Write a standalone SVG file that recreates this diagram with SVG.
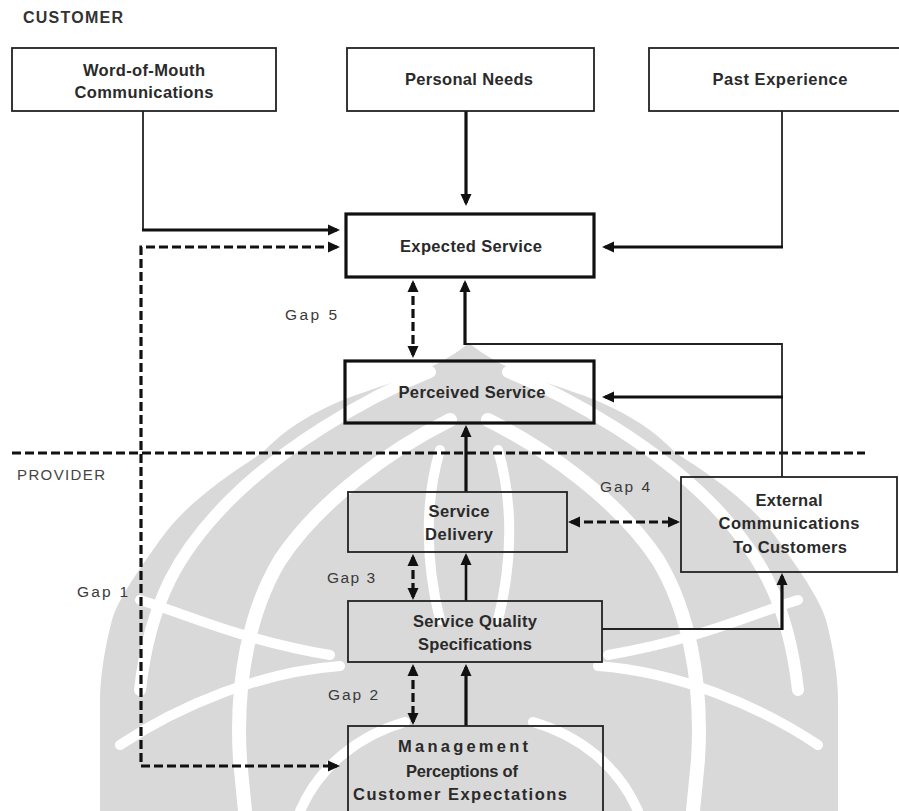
<svg xmlns="http://www.w3.org/2000/svg" xmlns:xlink="http://www.w3.org/1999/xlink" width="899" height="811" viewBox="0 0 899 811">
<style>
.box{fill:none;stroke:#222;stroke-width:1.8}
.bold{fill:none;stroke:#111;stroke-width:3.2}
.t{font-family:"Liberation Sans",Arial,sans-serif;font-size:16.5px;font-weight:bold;fill:#2a2a2a;text-anchor:middle}
.lab{font-family:"Liberation Sans",Arial,sans-serif;font-size:15.5px;fill:#3a3a3a}
.thin{fill:none;stroke:#222;stroke-width:1.8}
.thick{fill:none;stroke:#111;stroke-width:3.2}
.dash{fill:none;stroke:#111;stroke-width:3.2;stroke-dasharray:9 4}
.wm{fill:#d9d9d9}
.wb{fill:none;stroke:#fff;stroke-linecap:round}
</style>
<defs>
<marker id="ah" markerUnits="userSpaceOnUse" markerWidth="14" markerHeight="14" refX="9" refY="6" orient="auto-start-reverse">
<path d="M0,0.5 L12,6 L0,11.5 Z" fill="#111"/>
</marker>
<g id="wmhalf">
<path class="wm" d="M469,343 C430,375 380,385 343,400 C300,418 280,435 262,453 C220,480 185,505 160,540 C135,575 118,600 112,620 C104,650 100,680 100,700 L100,811 L469,811 Z"/>
<path class="wb" stroke-width="12" d="M430,372 C360,400 280,450 230,500 C180,550 150,600 140,690"/>
<path class="wb" stroke-width="14" d="M450,420 C390,450 320,500 280,560 C250,610 235,680 240,760 L245,811"/>
<path class="wb" stroke-width="10" d="M440,450 C425,500 425,560 440,620"/>
<path class="wb" stroke-width="10" d="M140,600 C180,612 240,640 330,655"/>
<path class="wb" stroke-width="10" d="M120,745 C180,705 260,672 340,666"/>
<path class="wb" stroke-width="10" d="M300,811 C320,765 360,735 405,722"/>
</g>
</defs>
<rect width="899" height="811" fill="#fff"/>
<g id="watermark">
<use xlink:href="#wmhalf"/>
<use xlink:href="#wmhalf" transform="translate(938,0) scale(-1,1)"/>
</g>
<text x="23" y="23" font-family="'Liberation Sans',Arial,sans-serif" font-size="16" font-weight="bold" fill="#333" textLength="100" lengthAdjust="spacing">CUSTOMER</text>
<text x="17" y="480" font-family="'Liberation Sans',Arial,sans-serif" font-size="15" fill="#444" textLength="88" lengthAdjust="spacing">PROVIDER</text>
<g id="connectors">
<line class="dash" x1="12" y1="453" x2="865" y2="453"/>
<path class="thin" d="M143,111 V230"/>
<path class="thick" d="M142,230 H337" marker-end="url(#ah)"/>
<path class="thick" d="M466,111 V203" marker-end="url(#ah)"/>
<path class="thin" d="M782,111 V247"/>
<path class="thick" d="M783,247 H605" marker-end="url(#ah)"/>
<path class="dash" d="M337,247 H141 V766 H337" marker-start="url(#ah)" marker-end="url(#ah)"/>
<path class="dash" d="M413,283 V355" marker-start="url(#ah)" marker-end="url(#ah)"/>
<path class="thin" d="M782,477 V344 H465"/>
<path class="thick" d="M465,345 V283" marker-end="url(#ah)"/>
<path class="thick" d="M783,397 H605" marker-end="url(#ah)"/>
<path class="thick" d="M466,492 V428" marker-end="url(#ah)"/>
<path class="dash" d="M571,522 H677" marker-start="url(#ah)" marker-end="url(#ah)"/>
<path class="dash" d="M413,557 V597" marker-start="url(#ah)" marker-end="url(#ah)"/>
<path class="thick" style="stroke-width:2.6" d="M466,601 V556" marker-end="url(#ah)"/>
<path class="thin" d="M602,629 H782"/>
<path class="thick" d="M782,630 V576" marker-end="url(#ah)"/>
<path class="dash" d="M413,667 V722" marker-start="url(#ah)" marker-end="url(#ah)"/>
<path class="thick" d="M466,726 V667" marker-end="url(#ah)"/>
</g>
<g id="wom">
<rect class="box" x="12" y="48" width="264" height="63"/>
<text class="t" x="144" y="76" textLength="122" lengthAdjust="spacing">Word-of-Mouth</text>
<text class="t" x="144" y="98" textLength="139" lengthAdjust="spacing">Communications</text>
</g>
<g id="needs">
<rect class="box" x="347" y="48" width="247" height="63"/>
<text class="t" x="469" y="85" textLength="128" lengthAdjust="spacing">Personal Needs</text>
</g>
<g id="past">
<rect class="box" x="649" y="48" width="266" height="63"/>
<text class="t" x="780" y="85" textLength="135" lengthAdjust="spacing">Past Experience</text>
</g>
<g id="expected">
<rect class="bold" x="346" y="214" width="248" height="63"/>
<text class="t" x="471" y="252" textLength="142" lengthAdjust="spacing">Expected Service</text>
</g>
<g id="perceived">
<rect class="bold" x="345" y="361" width="249" height="62"/>
<text class="t" x="472" y="398" textLength="147" lengthAdjust="spacing">Perceived Service</text>
</g>
<g id="delivery">
<rect class="box" x="348" y="492" width="219" height="60"/>
<text class="t" x="459" y="517" textLength="61" lengthAdjust="spacing">Service</text>
<text class="t" x="459" y="540" textLength="68" lengthAdjust="spacing">Delivery</text>
</g>
<g id="external">
<rect class="box" x="681" y="477" width="216" height="95"/>
<text class="t" x="789" y="506" textLength="67" lengthAdjust="spacing">External</text>
<text class="t" x="789" y="529" textLength="141" lengthAdjust="spacing">Communications</text>
<text class="t" x="790" y="553" textLength="114" lengthAdjust="spacing">To Customers</text>
</g>
<g id="specs">
<rect class="box" x="348" y="601" width="254" height="61"/>
<text class="t" x="475" y="627" textLength="124" lengthAdjust="spacing">Service Quality</text>
<text class="t" x="475" y="650" textLength="114" lengthAdjust="spacing">Specifications</text>
</g>
<g id="management">
<rect class="box" x="348" y="726" width="255" height="110"/>
<text class="t" x="463" y="752" textLength="130" lengthAdjust="spacing">Management</text>
<text class="t" x="462" y="777" textLength="112" lengthAdjust="spacing">Perceptions of</text>
<text class="t" x="460" y="800" textLength="214" lengthAdjust="spacing">Customer Expectations</text>
</g>
<g id="gaps">
<text class="lab" x="285" y="320" textLength="52" lengthAdjust="spacing">Gap 5</text>
<text class="lab" x="600" y="492" textLength="50" lengthAdjust="spacing">Gap 4</text>
<text class="lab" x="327" y="583" textLength="48" lengthAdjust="spacing">Gap 3</text>
<text class="lab" x="328" y="700" textLength="50" lengthAdjust="spacing">Gap 2</text>
<text class="lab" x="77" y="597" textLength="51" lengthAdjust="spacing">Gap 1</text>
</g>
</svg>
